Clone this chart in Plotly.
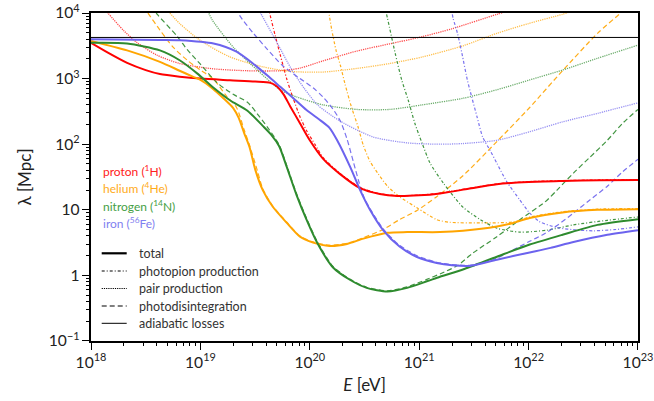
import numpy as np
import plotly.graph_objects as go

# ---------------- data (log10 E [eV], log10 lambda [Mpc]) ----------------
ADIABATIC_LAMBDA = 4240.0
E_RANGE = [18.0, 23.0]

proton_total_logE = [18.0, 18.15, 18.33, 18.5, 18.63, 18.81, 19.0, 19.27, 19.5, 19.64, 19.70, 19.76, 19.82, 19.91, 20.0, 20.12, 20.28, 20.46, 20.64, 20.80, 21.0, 21.19, 21.45, 21.71, 22.0, 22.31, 22.65, 23.0]
proton_total_loglam = [3.545, 3.40, 3.24, 3.13, 3.07, 3.03, 3.0, 2.975, 2.955, 2.935, 2.88, 2.76, 2.58, 2.32, 2.06, 1.78, 1.54, 1.33, 1.24, 1.21, 1.22, 1.25, 1.32, 1.39, 1.425, 1.44, 1.45, 1.455]
proton_pion_logE = [19.60, 19.64, 19.68, 19.73, 19.79, 19.85, 19.91, 19.97, 20.05, 20.12, 20.28, 20.46, 20.64, 20.80, 21.0, 21.19, 21.45, 21.71, 22.0, 22.31, 22.65, 23.0]
proton_pion_loglam = [4.2, 3.95, 3.68, 3.36, 2.99, 2.69, 2.42, 2.21, 1.99, 1.80, 1.55, 1.34, 1.245, 1.215, 1.225, 1.255, 1.325, 1.395, 1.43, 1.445, 1.455, 1.46]
proton_pair_logE = [18.10, 18.155, 18.3, 18.42, 18.6, 18.81, 19.11, 19.43, 19.73, 19.91, 20.12, 20.43, 20.73, 21.03, 21.3, 21.71, 21.85]
proton_pair_loglam = [4.12, 4.0, 3.73, 3.55, 3.36, 3.23, 3.15, 3.12, 3.12, 3.16, 3.27, 3.42, 3.53, 3.64, 3.76, 3.98, 4.05]

helium_total_logE = [18.0, 18.33, 18.63, 18.81, 18.93, 19.0, 19.11, 19.21, 19.30, 19.35, 19.40, 19.45, 19.50, 19.57, 19.66, 19.79, 19.91, 20.03, 20.18, 20.34, 20.49, 20.71, 20.89, 21.19, 21.40, 21.71, 21.86, 22.01, 22.31, 22.63, 23.0]
helium_total_loglam = [3.575, 3.43, 3.256, 3.12, 3.03, 2.98, 2.85, 2.70, 2.55, 2.40, 2.17, 1.95, 1.62, 1.30, 1.05, 0.80, 0.59, 0.50, 0.45, 0.48, 0.56, 0.65, 0.66, 0.66, 0.68, 0.745, 0.80, 0.875, 0.96, 1.0, 1.01]
helium_pion_logE = [20.17, 20.2, 20.24, 20.28, 20.32, 20.38, 20.44, 20.49, 20.55, 20.62, 20.71, 20.82, 20.98, 21.16, 21.28, 21.56, 21.86, 22.01, 22.31, 22.63, 23.0]
helium_pion_loglam = [4.05, 3.75, 3.43, 3.2, 2.93, 2.57, 2.27, 1.98, 1.74, 1.56, 1.36, 1.20, 1.03, 0.85, 0.81, 0.80, 0.815, 0.89, 0.97, 1.01, 1.02]
helium_pair_logE = [18.68, 18.72, 18.81, 19.0, 19.27, 19.57, 19.82, 20.12, 20.43, 20.73, 21.03, 21.4, 21.71, 22.0, 22.31, 22.4]
helium_pair_loglam = [4.07, 4.0, 3.84, 3.58, 3.33, 3.18, 3.11, 3.10, 3.155, 3.23, 3.33, 3.5, 3.69, 3.84, 3.98, 4.03]
helium_dis_logE = [18.48, 18.52, 18.63, 18.75, 18.88, 19.0, 19.12, 19.24, 19.33, 19.40, 19.45, 19.52, 19.57, 19.66, 19.79, 19.91, 20.03, 20.18, 20.34, 20.49, 20.67, 20.82, 20.98, 21.16, 21.4, 21.71, 22.01, 22.31, 22.63, 22.84, 22.9]
helium_dis_loglam = [4.1, 4.0, 3.74, 3.48, 3.28, 3.13, 2.99, 2.73, 2.56, 2.22, 1.98, 1.60, 1.32, 1.06, 0.81, 0.60, 0.51, 0.46, 0.49, 0.575, 0.70, 0.85, 0.99, 1.2, 1.52, 2.04, 2.56, 3.12, 3.69, 4.0, 4.1]

nitrogen_total_logE = [18.0, 18.33, 18.63, 18.81, 18.97, 19.12, 19.27, 19.43, 19.57, 19.65, 19.72, 19.79, 19.88, 19.97, 20.07, 20.21, 20.37, 20.52, 20.71, 20.89, 21.07, 21.19, 21.4, 21.71, 22.01, 22.31, 22.63, 23.0]
nitrogen_total_loglam = [3.545, 3.535, 3.43, 3.28, 3.08, 2.86, 2.67, 2.51, 2.28, 2.14, 1.97, 1.65, 1.22, 0.85, 0.49, 0.125, -0.07, -0.19, -0.245, -0.19, -0.09, -0.02, 0.09, 0.285, 0.47, 0.62, 0.77, 0.857]
nitrogen_pion_logE = [20.685, 20.71, 20.78, 20.84, 20.90, 20.96, 21.03, 21.10, 21.22, 21.40, 21.56, 21.71, 21.92, 22.17, 22.41, 22.72, 23.0]
nitrogen_pion_loglam = [4.1, 3.92, 3.39, 2.98, 2.67, 2.32, 2.0, 1.71, 1.41, 1.04, 0.85, 0.72, 0.66, 0.69, 0.77, 0.84, 0.89]
nitrogen_pair_logE = [19.06, 19.11, 19.30, 19.52, 19.73, 19.88, 20.12, 20.43, 20.73, 21.03, 21.40, 21.71, 22.01, 22.31, 22.63, 23.0]
nitrogen_pair_loglam = [4.06, 3.89, 3.48, 3.13, 2.83, 2.72, 2.60, 2.53, 2.53, 2.60, 2.70, 2.83, 2.98, 3.13, 3.31, 3.51]
nitrogen_dis_logE = [18.55, 18.61, 18.79, 18.88, 19.0, 19.15, 19.30, 19.43, 19.54, 19.63, 19.72, 19.79, 19.88, 19.97, 20.07, 20.21, 20.37, 20.52, 20.71, 20.89, 21.07, 21.2, 21.35, 21.49, 21.71, 21.92, 22.15, 22.26, 22.41, 22.56, 22.72, 22.86, 23.0]
nitrogen_dis_loglam = [4.1, 3.97, 3.64, 3.44, 3.22, 2.94, 2.76, 2.64, 2.42, 2.22, 1.99, 1.67, 1.24, 0.87, 0.51, 0.14, -0.06, -0.18, -0.235, -0.175, -0.06, 0.03, 0.15, 0.34, 0.59, 0.85, 1.12, 1.30, 1.56, 1.80, 2.06, 2.32, 2.53]

iron_total_logE = [18.0, 18.63, 18.81, 19.12, 19.33, 19.48, 19.61, 19.73, 19.85, 19.97, 20.10, 20.18, 20.25, 20.37, 20.46, 20.55, 20.67, 20.82, 20.98, 21.16, 21.3, 21.46, 21.71, 22.01, 22.2, 22.41, 22.72, 23.0]
iron_total_loglam = [3.60, 3.59, 3.585, 3.535, 3.41, 3.23, 3.05, 2.875, 2.70, 2.52, 2.36, 2.25, 2.06, 1.65, 1.30, 1.0, 0.69, 0.44, 0.28, 0.19, 0.155, 0.145, 0.24, 0.35, 0.42, 0.51, 0.62, 0.69]
iron_pion_logE = [21.29, 21.31, 21.35, 21.39, 21.44, 21.48, 21.53, 21.58, 21.65, 21.71, 21.80, 21.92, 22.01, 22.10, 22.26, 22.45, 22.6, 22.8, 23.0]
iron_pion_loglam = [4.1, 3.92, 3.69, 3.39, 2.98, 2.72, 2.41, 2.11, 1.9, 1.71, 1.43, 1.15, 0.95, 0.82, 0.73, 0.69, 0.68, 0.70, 0.74]
iron_pair_logE = [19.52, 19.55, 19.70, 19.83, 19.95, 20.07, 20.28, 20.58, 20.89, 21.19, 21.40, 21.71, 22.01, 22.31, 22.63, 23.0]
iron_pair_loglam = [4.1, 4.0, 3.55, 3.15, 2.85, 2.6, 2.35, 2.11, 2.02, 2.0, 2.01, 2.06, 2.19, 2.34, 2.47, 2.63]
iron_dis_logE = [19.33, 19.36, 19.48, 19.61, 19.75, 19.91, 20.03, 20.12, 20.21, 20.28, 20.34, 20.40, 20.45, 20.50, 20.55, 20.67, 20.82, 20.98, 21.16, 21.3, 21.46, 21.6, 21.71, 21.86, 22.01, 22.13, 22.26, 22.41, 22.56, 22.72, 22.86, 23.0]
iron_dis_loglam = [4.08, 3.96, 3.70, 3.45, 3.20, 3.0, 2.86, 2.72, 2.54, 2.35, 2.08, 1.72, 1.42, 1.17, 1.02, 0.71, 0.46, 0.30, 0.20, 0.165, 0.155, 0.2, 0.26, 0.39, 0.52, 0.62, 0.76, 0.95, 1.15, 1.36, 1.58, 1.77]

species_labels = ["proton (<sup>1</sup>H)", "helium (<sup>4</sup>He)", "nitrogen (<sup>14</sup>N)", "iron (<sup>56</sup>Fe)"]
legend_labels = ["total", "photopion production", "pair production", "photodisintegration", "adiabatic losses"]

# ---------------- styles ----------------
RED, ORANGE, GREEN, BLUE = "#ff0000", "#ffa500", "#2e8b2e", "#6c63ee"
LABEL_COLORS = ["#ff2020", "#ffab1a", "#45a045", "#7f7ff0"]
DASH_PION = "3px,2px,1px,2px"
DASH_PAIR = "1.2px,1px"
DASH_DIS = "5px,3px"

fig = go.Figure()


def add(logE, loglam, color, dash, width, opacity=1.0):
    assert len(logE) == len(loglam)
    fig.add_trace(go.Scatter(
        x=10 ** np.array(logE), y=10 ** np.array(loglam), mode="lines",
        line=dict(color=color, dash=dash, width=width, shape="spline", smoothing=0.7),
        opacity=opacity, showlegend=False, hoverinfo="skip"))


species = [
    (RED, proton_total_logE, proton_total_loglam, proton_pion_logE, proton_pion_loglam,
     proton_pair_logE, proton_pair_loglam, None, None),
    (ORANGE, helium_total_logE, helium_total_loglam, helium_pion_logE, helium_pion_loglam,
     helium_pair_logE, helium_pair_loglam, helium_dis_logE, helium_dis_loglam),
    (GREEN, nitrogen_total_logE, nitrogen_total_loglam, nitrogen_pion_logE, nitrogen_pion_loglam,
     nitrogen_pair_logE, nitrogen_pair_loglam, nitrogen_dis_logE, nitrogen_dis_loglam),
    (BLUE, iron_total_logE, iron_total_loglam, iron_pion_logE, iron_pion_loglam,
     iron_pair_logE, iron_pair_loglam, iron_dis_logE, iron_dis_loglam),
]

for col, tx, ty, px_, py_, qx, qy, dx, dy in species:
    add(qx, qy, col, DASH_PAIR, 1.3, 0.7)
    if dx is not None:
        add(dx, dy, col, DASH_DIS, 1.2, 0.9)
    add(px_, py_, col, DASH_PION, 1.2, 0.9)

# adiabatic losses
fig.add_trace(go.Scatter(x=10 ** np.array(E_RANGE), y=[ADIABATIC_LAMBDA] * 2, mode="lines",
                         line=dict(color="black", width=1), showlegend=False, hoverinfo="skip"))

for col, tx, ty, *_ in species:
    add(tx, ty, col, "solid", 2.0)

# ---------------- layout ----------------
FIG_W, FIG_H = 654, 401
PLOT_L, PLOT_R, PLOT_T, PLOT_B = 91, 638, 13, 341


def px_to_paper_x(p):
    return (p - PLOT_L) / (PLOT_R - PLOT_L)


def px_to_paper_y(p):
    return (PLOT_B - p) / (PLOT_B - PLOT_T)


key_styles = [("solid", 2.2), (DASH_PION, 1.1), (DASH_PAIR, 1.1), (DASH_DIS, 1.1), ("solid", 1.0)]
key_y_px = [253.3, 271.0, 288.5, 306.0, 323.3]
for lab, (dash, w), ypx in zip(legend_labels, key_styles, key_y_px):
    yv = px_to_paper_y(ypx)
    fig.add_shape(type="line", xref="paper", yref="paper",
                  x0=px_to_paper_x(101.7), x1=px_to_paper_x(126.7), y0=yv, y1=yv,
                  line=dict(color="black", dash=dash, width=w))
    fig.add_annotation(text=lab, xref="paper", yref="paper", x=px_to_paper_x(136.5), y=yv,
                       xanchor="left", yanchor="middle", showarrow=False,
                       font=dict(family="Lato", size=12.5, color="#333"))

label_y_px = [170.8, 188.3, 205.8, 223.3]
for txt, ypx, c in zip(species_labels, label_y_px, LABEL_COLORS):
    fig.add_annotation(text=txt, xref="paper", yref="paper", x=px_to_paper_x(100.5), y=px_to_paper_y(ypx),
                       xanchor="left", yanchor="middle", showarrow=False,
                       font=dict(family="Lato", size=12, color=c))

axis_common = dict(
    type="log", dtick=1, exponentformat="power", showexponent="all",
    showline=True, linecolor="black", linewidth=1.8, mirror=True,
    ticks="outside", ticklen=7, tickwidth=1.2, tickcolor="black",
    showgrid=False, zeroline=False, automargin=False, ticklabeloverflow="allow",
    tickfont=dict(family="Lato", size=12.5, color="#222"),
    minor=dict(dtick="D1", ticks="outside", ticklen=3.5, tickwidth=0.9, tickcolor="black", showgrid=False),
)

fig.update_layout(
    width=FIG_W, height=FIG_H,
    margin=dict(l=PLOT_L, r=FIG_W - PLOT_R, t=PLOT_T, b=FIG_H - PLOT_B),
    paper_bgcolor="white", plot_bgcolor="white",
    font=dict(family="Lato", color="#222"),
    xaxis=dict(range=[17.9999, 23.0001], title=dict(text="<i>E</i> [eV]", font=dict(size=17, family="Lato"), standoff=9), **axis_common),
    yaxis=dict(range=[-1.0001, 4.0001], title=dict(text="λ [Mpc]", font=dict(size=17, family="Lato"), standoff=13), **axis_common),
    showlegend=False,
)

# the page's default body margin would shift the figure by 8px; remove it
fig.write_html("out.html", config={"displayModeBar": False},
               post_script="document.body.style.margin='0px';document.body.style.overflow='hidden';")
